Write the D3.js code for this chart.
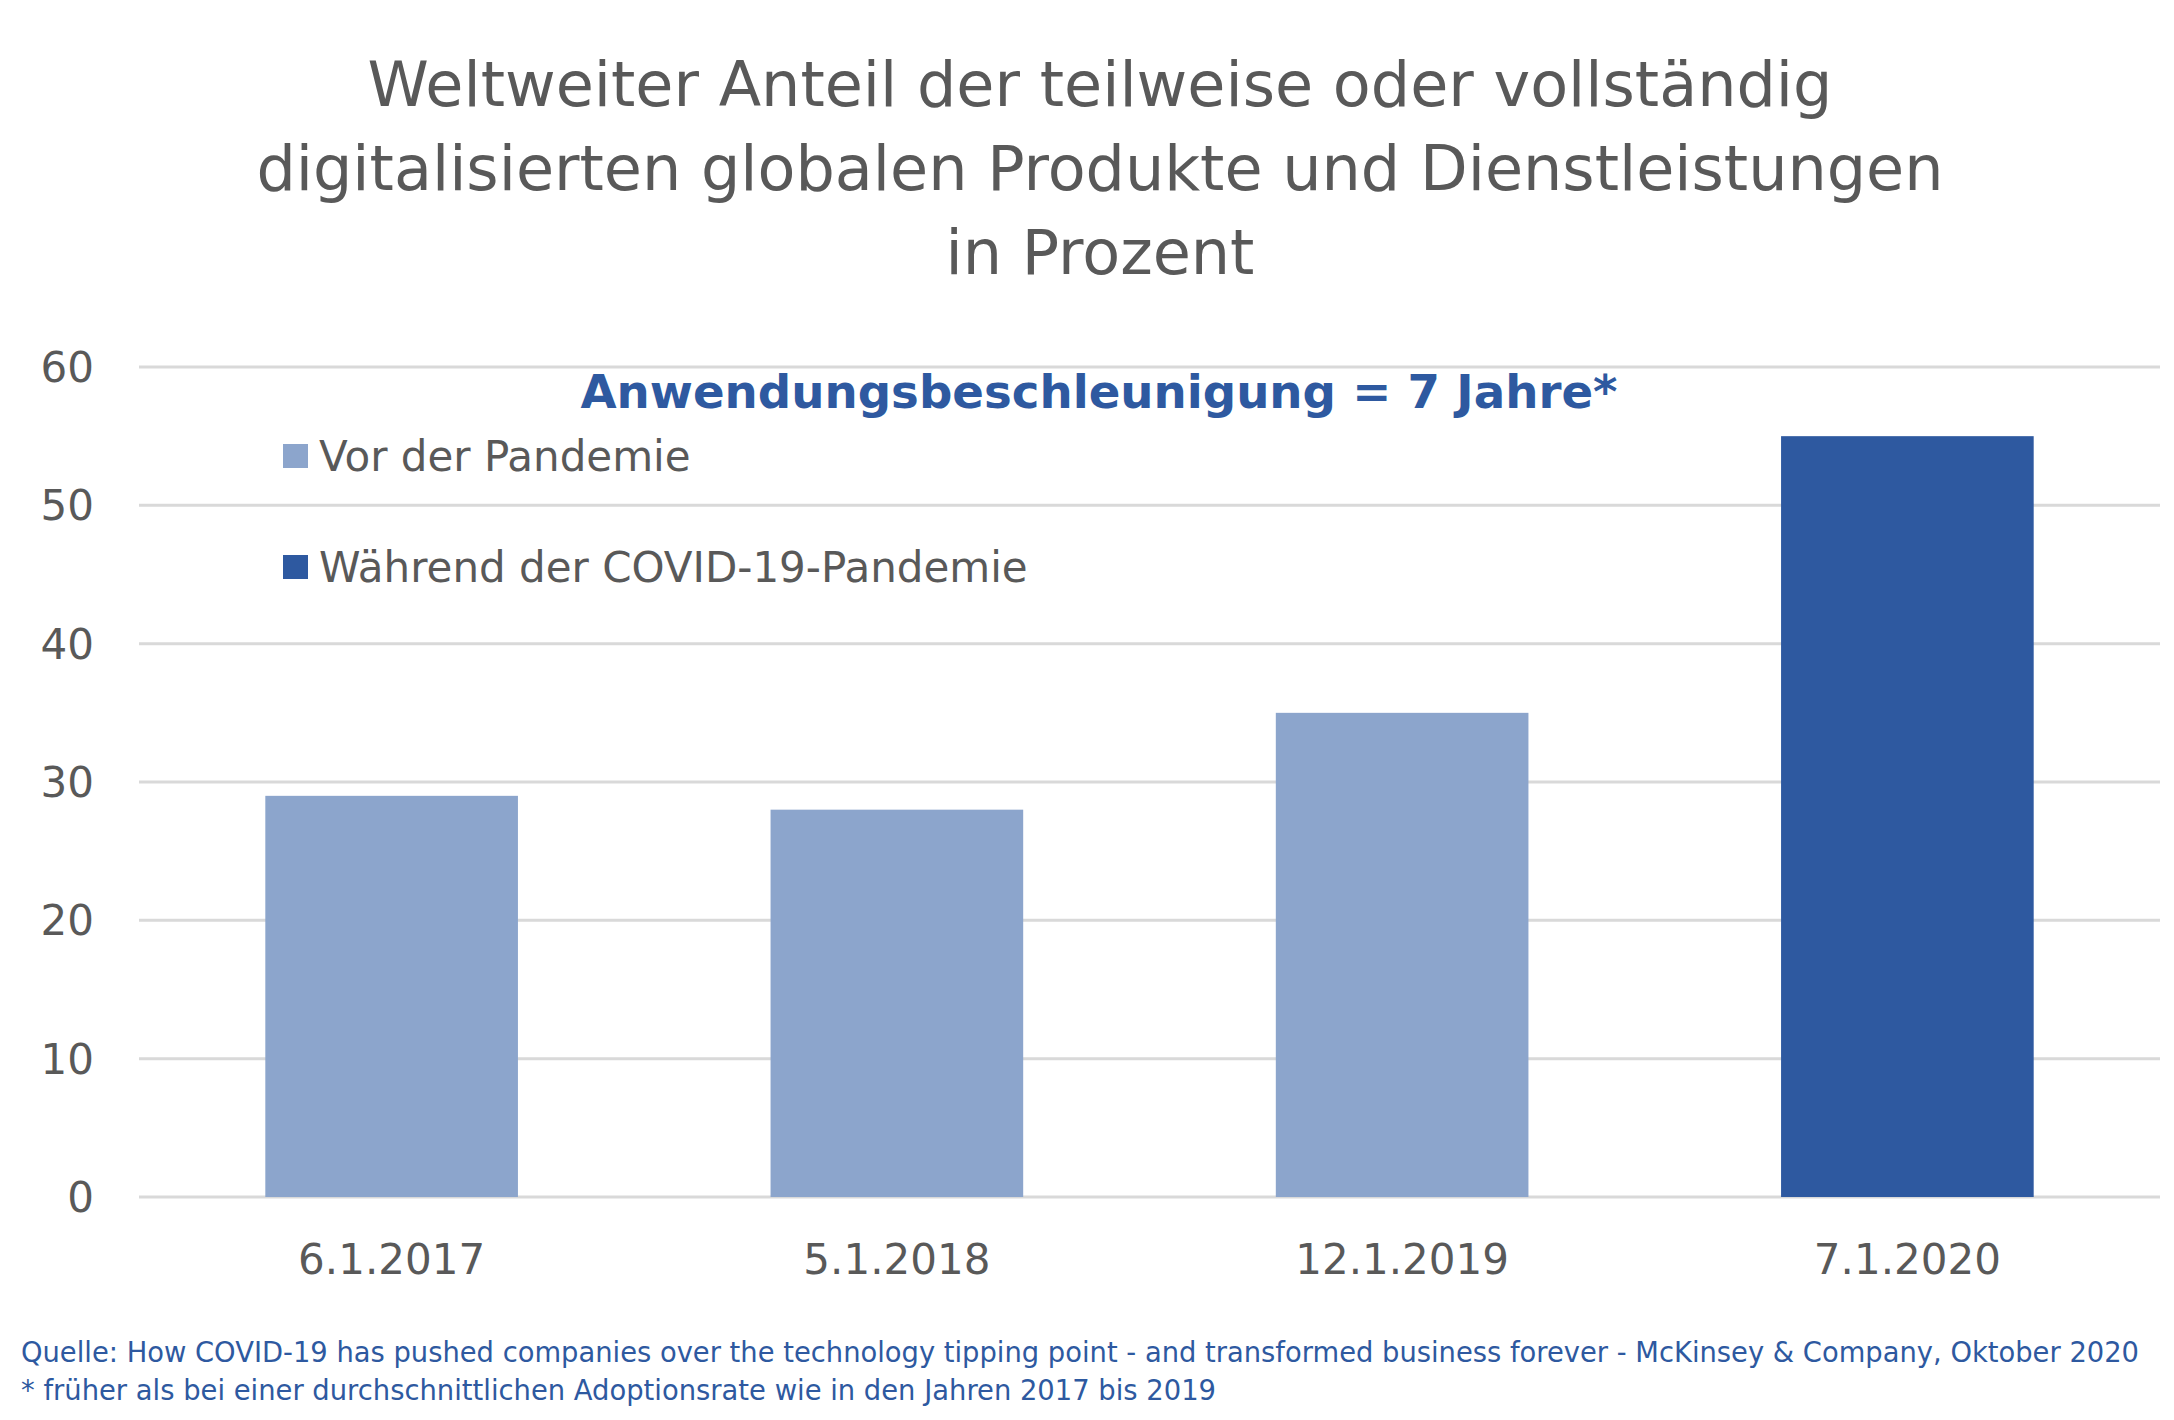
<!DOCTYPE html>
<html><head><meta charset="utf-8">
<script src="https://cdn.jsdelivr.net/npm/d3@7"></script>
<style>body{margin:0;background:#fff}</style>
</head><body>
<svg id="chart" width="2174" height="1420"></svg>
<script>
// data
var categories = ["6.1.2017", "5.1.2018", "12.1.2019", "7.1.2020"];
var values = [29, 28, 35, 55];
var phases = ["vor", "vor", "vor", "waehrend"];
var yTicks = [0, 10, 20, 30, 40, 50, 60];
var titleLines = ["Weltweiter Anteil der teilweise oder vollständig",
                  "digitalisierten globalen Produkte und Dienstleistungen",
                  "in Prozent"];
var legendItems = [{key: "vor", label: "Vor der Pandemie"},
                   {key: "waehrend", label: "Während der COVID-19-Pandemie"}];

var colors = {vor: "#8CA5CC", waehrend: "#2E59A0"};
var font = "Tahoma, 'DejaVu Sans', sans-serif";

var svg = d3.select("#chart");
var x = d3.scaleBand().domain(categories).range([139, 2160]).paddingInner(0.5).paddingOuter(0.25);
var y = d3.scaleLinear().domain([0, 60]).range([1197, 367]);

// title
svg.append("g").selectAll("text").data(titleLines).enter().append("text")
    .attr("x", 1100).attr("y", function(d, i) { return 106 + i * 84; })
    .attr("text-anchor", "middle").attr("font-family", font).attr("font-size", 62)
    .attr("fill", "#595959").text(function(d) { return d; });

// gridlines
svg.append("g").selectAll("line").data(yTicks).enter().append("line")
    .attr("x1", 139).attr("x2", 2160)
    .attr("y1", function(d) { return y(d); }).attr("y2", function(d) { return y(d); })
    .attr("stroke", "#D9D9D9").attr("stroke-width", 3);

// y labels
svg.append("g").selectAll("text").data(yTicks).enter().append("text")
    .attr("x", 94).attr("y", function(d) { return y(d) + 15; })
    .attr("text-anchor", "end").attr("font-family", font).attr("font-size", 42)
    .attr("fill", "#595959").text(function(d) { return d; });

// bars
svg.append("g").selectAll("rect").data(values).enter().append("rect")
    .attr("x", function(d, i) { return x(categories[i]); })
    .attr("width", x.bandwidth())
    .attr("y", function(d) { return y(d); })
    .attr("height", function(d) { return y(0) - y(d); })
    .attr("fill", function(d, i) { return colors[phases[i]]; });

// x labels
svg.append("g").selectAll("text").data(categories).enter().append("text")
    .attr("x", function(d) { return x(d) + x.bandwidth() / 2; }).attr("y", 1274)
    .attr("text-anchor", "middle").attr("font-family", font).attr("font-size", 42)
    .attr("fill", "#595959").text(function(d) { return d; });

// annotation
svg.append("text").attr("x", 1099).attr("y", 408).attr("text-anchor", "middle")
    .attr("font-family", font).attr("font-weight", "bold").attr("font-size", 47)
    .attr("fill", "#2E59A0").attr("textLength", 1037).attr("lengthAdjust", "spacingAndGlyphs")
    .text("Anwendungsbeschleunigung = 7 Jahre*");

// legend
var lg = svg.append("g").selectAll("g").data(legendItems).enter().append("g")
    .attr("transform", function(d, i) { return "translate(283," + (444 + i * 111) + ")"; });
lg.append("rect").attr("width", 25).attr("height", 24).attr("fill", function(d) { return colors[d.key]; });
lg.append("text").attr("x", 36).attr("y", 27).attr("font-family", font).attr("font-size", 42)
    .attr("fill", "#595959").text(function(d) { return d.label; });

// footnotes
svg.append("text").attr("x", 21).attr("y", 1362).attr("font-family", font).attr("font-size", 29)
    .attr("fill", "#2E59A0").attr("textLength", 2118).attr("lengthAdjust", "spacingAndGlyphs")
    .text("Quelle: How COVID-19 has pushed companies over the technology tipping point - and transformed business forever - McKinsey & Company, Oktober 2020");
svg.append("text").attr("x", 21).attr("y", 1400).attr("font-family", font).attr("font-size", 29)
    .attr("fill", "#2E59A0").attr("textLength", 1195).attr("lengthAdjust", "spacingAndGlyphs")
    .text("* früher als bei einer durchschnittlichen Adoptionsrate wie in den Jahren 2017 bis 2019");
</script>
</body></html>
